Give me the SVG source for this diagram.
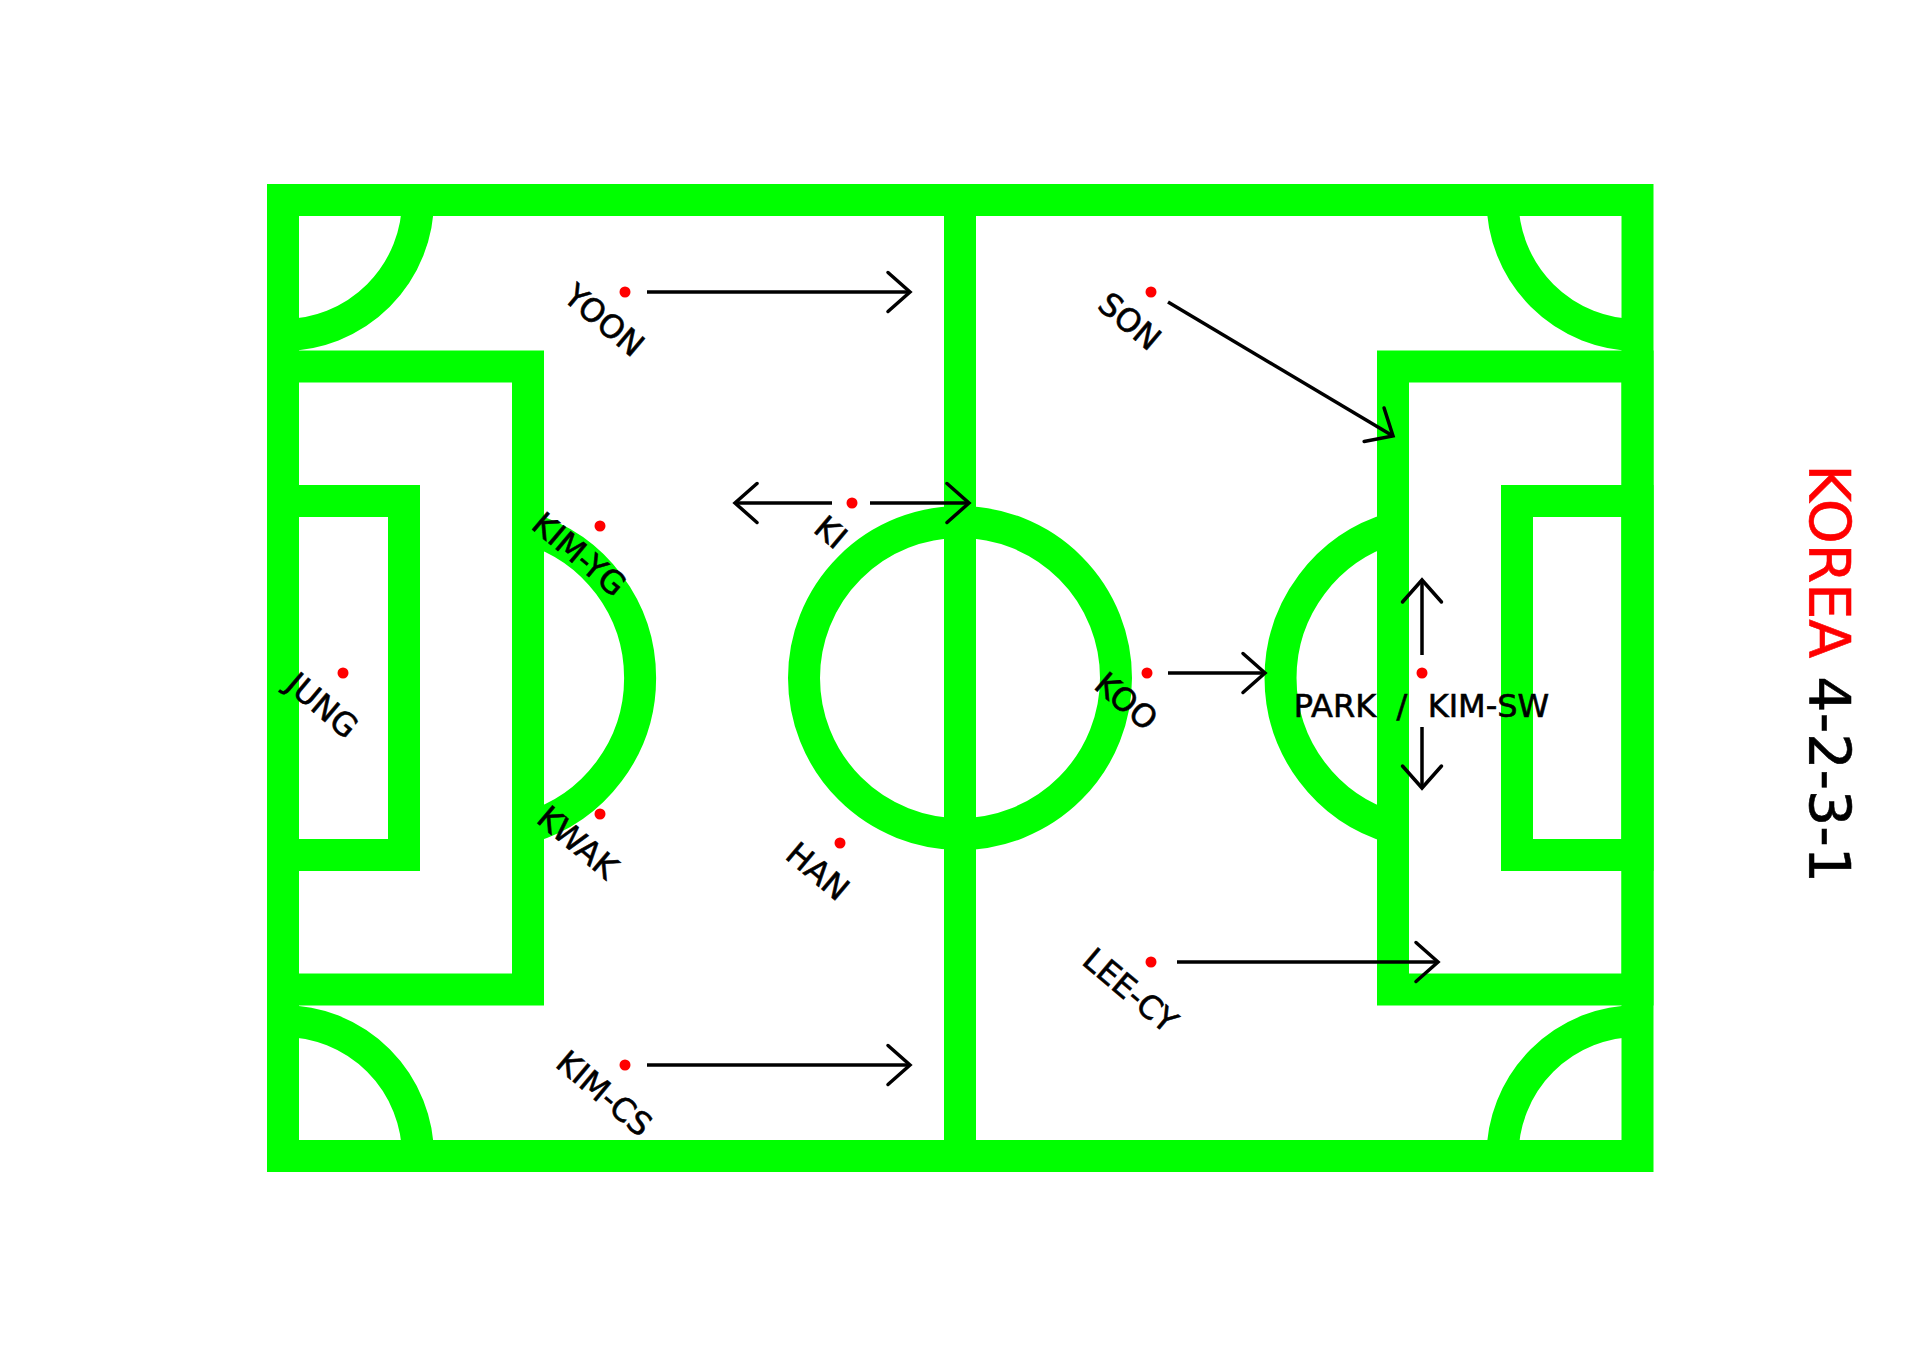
<svg xmlns="http://www.w3.org/2000/svg" width="1920" height="1356" viewBox="0 0 1920 1356">
  <style>
    .pitch { fill: none; stroke: #00ff00; stroke-width: 32; stroke-linejoin: miter; }
    .arrow { fill: none; stroke: #000000; stroke-width: 3.5; marker-end: url(#ah); }
    .dot { fill: #ff0000; }
    .lbl { font-family: "DejaVu Sans", Verdana, sans-serif; font-size: 32px; fill: #000000; stroke: #000000; stroke-width: 0.6; text-anchor: middle; }
    .title { font-family: "DejaVu Sans", Verdana, sans-serif; font-size: 57px; fill: #000000; stroke: #000000; stroke-width: 0.6; }
  </style>
  <defs>
    <marker id="ah" viewBox="-30 -25 35 50" refX="0" refY="0" markerWidth="35" markerHeight="50" markerUnits="userSpaceOnUse" orient="auto-start-reverse" overflow="visible">
      <path d="M-22,-19.5 L0,0 L-22,19.5" fill="none" stroke="#000000" stroke-width="3.5" stroke-linecap="round" stroke-linejoin="miter"/>
    </marker>
  </defs>
  <rect width="1920" height="1356" fill="#ffffff"/>

  <g id="pitch">
    <rect class="pitch" x="283" y="200" width="1354.5" height="956"/>
    <line class="pitch" x1="960" y1="200" x2="960" y2="1156"/>
    <circle class="pitch" cx="960" cy="678" r="156"/>
    <rect class="pitch" x="283" y="366.5" width="245" height="623"/>
    <rect class="pitch" x="1393" y="366.5" width="244.5" height="623"/>
    <rect class="pitch" x="283" y="501" width="121" height="354"/>
    <rect class="pitch" x="1517" y="501" width="120.5" height="354"/>
    <path class="pitch" d="M528,528.3 A156,156 0 0,1 528,827.7"/>
    <path class="pitch" d="M1393,528.2 A156,156 0 0,0 1393,827.8"/>
    <path class="pitch" d="M418,200 A135,135 0 0,1 283,335"/>
    <path class="pitch" d="M1502.5,200 A135,135 0 0,0 1637.5,335"/>
    <path class="pitch" d="M283,1021 A135,135 0 0,1 418,1156"/>
    <path class="pitch" d="M1502.5,1156 A135,135 0 0,1 1637.5,1021"/>
  </g>

  <g id="connectors">
    <line class="arrow" x1="647" y1="292" x2="910" y2="292"/>
    <line class="arrow" x1="832" y1="503" x2="735" y2="503"/>
    <line class="arrow" x1="870" y1="503" x2="969" y2="503"/>
    <line class="arrow" x1="1168" y1="302" x2="1393" y2="436"/>
    <line class="arrow" x1="1168" y1="673" x2="1265" y2="673"/>
    <line class="arrow" x1="1422" y1="655" x2="1422" y2="580"/>
    <line class="arrow" x1="1422" y1="727" x2="1422" y2="788"/>
    <line class="arrow" x1="647" y1="1065" x2="910" y2="1065"/>
    <line class="arrow" x1="1177" y1="962" x2="1438" y2="962"/>
  </g>

  <g id="player-jung">
    <circle class="dot" cx="343" cy="673" r="5.5"/>
    <text class="lbl" transform="translate(322.5,705) rotate(40)" y="11.6">JUNG</text>
  </g>
  <g id="player-yoon">
    <circle class="dot" cx="625" cy="292" r="5.5"/>
    <text class="lbl" transform="translate(604.5,320) rotate(40)" y="11.6">YOON</text>
  </g>
  <g id="player-kim-yg">
    <circle class="dot" cx="600" cy="526" r="5.5"/>
    <text class="lbl" transform="translate(579.5,554) rotate(40)" y="11.6">KIM-YG</text>
  </g>
  <g id="player-kwak">
    <circle class="dot" cx="600" cy="814" r="5.5"/>
    <text class="lbl" transform="translate(578,842) rotate(40)" y="11.6">KWAK</text>
  </g>
  <g id="player-kim-cs">
    <circle class="dot" cx="625" cy="1065" r="5.5"/>
    <text class="lbl" transform="translate(604.5,1093) rotate(40)" y="11.6">KIM-CS</text>
  </g>
  <g id="player-ki">
    <circle class="dot" cx="852" cy="503" r="5.5"/>
    <text class="lbl" transform="translate(831,532) rotate(40)" y="11.6">KI</text>
  </g>
  <g id="player-han">
    <circle class="dot" cx="840" cy="843" r="5.5"/>
    <text class="lbl" transform="translate(818,871) rotate(40)" y="11.6">HAN</text>
  </g>
  <g id="player-son">
    <circle class="dot" cx="1151" cy="292" r="5.5"/>
    <text class="lbl" transform="translate(1130,321) rotate(40)" y="11.6">SON</text>
  </g>
  <g id="player-koo">
    <circle class="dot" cx="1147" cy="673" r="5.5"/>
    <text class="lbl" transform="translate(1126.5,701) rotate(40)" y="11.6">KOO</text>
  </g>
  <g id="player-lee-cy">
    <circle class="dot" cx="1151" cy="962" r="5.5"/>
    <text class="lbl" transform="translate(1130.5,990) rotate(40)" y="11.6">LEE-CY</text>
  </g>
  <g id="player-park-kim-sw">
    <circle class="dot" cx="1422" cy="673" r="5.5"/>
    <text class="lbl" x="1421.5" y="717" xml:space="preserve" style="white-space:pre">PARK  /  KIM-SW</text>
  </g>

  <g id="title">
    <text class="title" transform="translate(1809,464.5) rotate(90)"><tspan fill="#ff0000" stroke="#ff0000">KOREA</tspan> 4-2-3-1</text>
  </g>
</svg>
